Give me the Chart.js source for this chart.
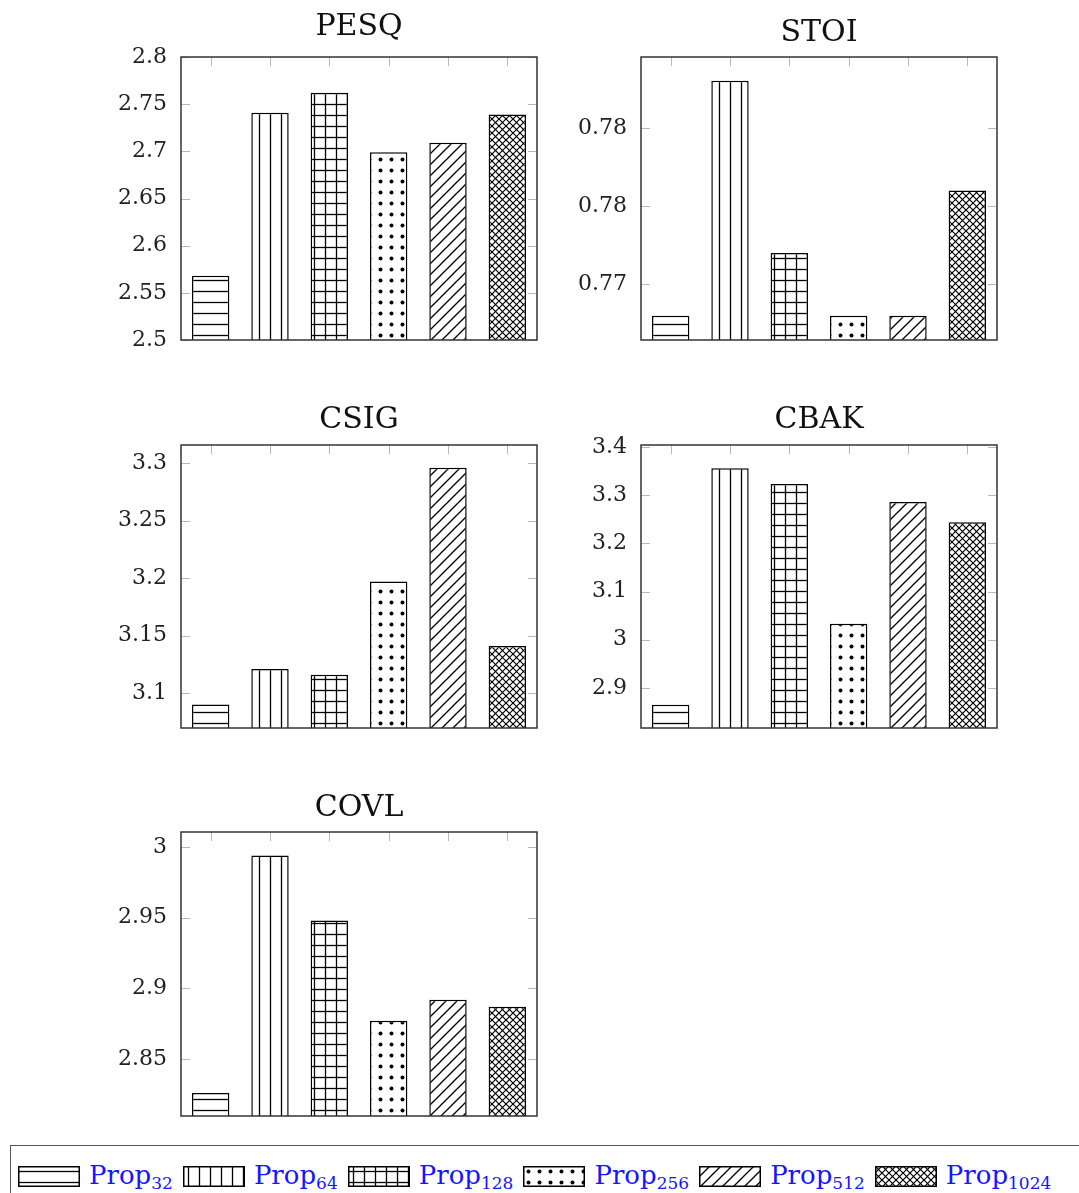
<!DOCTYPE html>
<html>
<head>
<meta charset="utf-8">
<script src="https://cdn.jsdelivr.net/npm/chart.js@4.4.1/dist/chart.umd.min.js"></script>
<style>
  html, body { margin: 0; padding: 0; background: #fff; }
  body { width: 1079px; height: 1193px; position: relative; overflow: hidden; }
  .panel { position: absolute; width: 447px; height: 368px; }
  #legend {
    position: absolute; left: 10px; top: 1145px; width: 1090px; height: 60px;
    border: 1.5px solid #555; box-sizing: border-box;
    display: flex; align-items: flex-start; padding-left: 7px; padding-top: 14px;
    font-family: 'DejaVu Serif', serif; font-size: 26px; color: #1515ff;
  }
  #legend .item { display: flex; align-items: center; margin-right: 10px; white-space: nowrap; }
  #legend canvas { margin-right: 9px; }
  #legend sub { font-size: 17px; vertical-align: -5px; }
</style>
</head>
<body>
<div class="panel" style="left:100px;top:0px"><canvas id="pesq" width="447" height="368"></canvas></div>
<div class="panel" style="left:560px;top:0px"><canvas id="stoi" width="447" height="368"></canvas></div>
<div class="panel" style="left:100px;top:388px"><canvas id="csig" width="447" height="368"></canvas></div>
<div class="panel" style="left:560px;top:388px"><canvas id="cbak" width="447" height="368"></canvas></div>
<div class="panel" style="left:100px;top:775px"><canvas id="covl" width="447" height="369"></canvas></div>
<div id="legend"></div>

<script>
// series (one bar per series in every panel)
const seriesNames = ['32', '64', '128', '256', '512', '1024'];

// metric values
const pesqValues = [2.568, 2.741, 2.762, 2.699, 2.709, 2.739];
const stoiValues = [0.7730, 0.7880, 0.7770, 0.7730, 0.7730, 0.7810];
const csigValues = [3.090, 3.121, 3.116, 3.197, 3.296, 3.141];
const cbakValues = [2.865, 3.356, 3.323, 3.033, 3.286, 3.244];
const covlValues = [2.826, 2.994, 2.948, 2.877, 2.892, 2.887];

// y ticks and their printed labels
const pesqTicks = [2.5, 2.55, 2.6, 2.65, 2.7, 2.75, 2.8];
const pesqTickLabels = ['2.5', '2.55', '2.6', '2.65', '2.7', '2.75', '2.8'];
const stoiTicks = [0.775, 0.78, 0.785];
const stoiTickLabels = ['0.77', '0.78', '0.78'];
const csigTicks = [3.1, 3.15, 3.2, 3.25, 3.3];
const csigTickLabels = ['3.1', '3.15', '3.2', '3.25', '3.3'];
const cbakTicks = [2.9, 3, 3.1, 3.2, 3.3, 3.4];
const cbakTickLabels = ['2.9', '3', '3.1', '3.2', '3.3', '3.4'];
const covlTicks = [2.85, 2.9, 2.95, 3];
const covlTickLabels = ['2.85', '2.9', '2.95', '3'];

// y ranges
const pesqRange = [2.5, 2.8];
const stoiRange = [0.77145, 0.78952];
const csigRange = [3.0696, 3.3157];
const cbakRange = [2.817, 3.404];
const covlRange = [2.8097, 3.0106];

const FONT = "'DejaVu Serif', serif";

// hatch patterns
function makePattern(kind) {
  const size = kind === 'crosshatch' ? 7 : 11;
  const c = document.createElement('canvas');
  c.width = size;
  c.height = size;
  const g = c.getContext('2d');
  g.fillStyle = '#fff';
  g.fillRect(0, 0, size, size);
  g.strokeStyle = '#000';
  g.fillStyle = '#000';
  g.lineWidth = kind === 'crosshatch' ? 1.2 : 1.3;
  const h = size / 2;
  const line = (x1, y1, x2, y2) => {
    g.beginPath();
    g.moveTo(x1, y1);
    g.lineTo(x2, y2);
    g.stroke();
  };
  if (kind === 'horizontal' || kind === 'grid') line(0, h, size, h);
  if (kind === 'vertical' || kind === 'grid') line(h, 0, h, size);
  if (kind === 'dots') {
    g.beginPath();
    g.arc(h, h, 2, 0, Math.PI * 2);
    g.fill();
  }
  if (kind === 'northeast' || kind === 'crosshatch') {
    line(-1, size + 1, size + 1, -1);
    line(-1, 1, 1, -1);
    line(size - 1, size + 1, size + 1, size - 1);
  }
  if (kind === 'crosshatch') {
    line(-1, -1, size + 1, size + 1);
    line(size - 1, -1, size + 1, 1);
    line(-1, size - 1, 1, size + 1);
  }
  return g.createPattern(c, 'repeat');
}

const patternKinds = ['horizontal', 'vertical', 'grid', 'dots', 'northeast', 'crosshatch'];
const patterns = patternKinds.map(makePattern);

// inward tick marks behind the bars, frame on top
const axisBoxPlugin = {
  id: 'axisBox',
  beforeDatasetsDraw(chart) {
    const { ctx, chartArea: a, scales: { x, y } } = chart;
    ctx.save();
    ctx.strokeStyle = '#b8b8b8';
    ctx.lineWidth = 1;
    x.ticks.forEach((t, i) => {
      const px = Math.round(x.getPixelForTick(i)) + 0.5;
      ctx.beginPath();
      ctx.moveTo(px, a.top); ctx.lineTo(px, a.top + 9);
      ctx.moveTo(px, a.bottom); ctx.lineTo(px, a.bottom - 9);
      ctx.stroke();
    });
    y.ticks.forEach((t, i) => {
      const py = Math.round(y.getPixelForTick(i)) + 0.5;
      ctx.beginPath();
      ctx.moveTo(a.left, py); ctx.lineTo(a.left + 9, py);
      ctx.moveTo(a.right, py); ctx.lineTo(a.right - 9, py);
      ctx.stroke();
    });
    ctx.restore();
  },
  afterDatasetsDraw(chart) {
    const { ctx, chartArea: a } = chart;
    ctx.save();
    ctx.strokeStyle = '#333';
    ctx.lineWidth = 1.5;
    ctx.strokeRect(a.left, a.top, a.right - a.left, a.bottom - a.top);
    ctx.restore();
  },
};

function drawPanel(id, title, values, range, ticks, tickLabels, titleGap) {
  const padBottom = titleGap - 18;
  new Chart(document.getElementById(id), {
    type: 'bar',
    data: {
      labels: seriesNames.map((s) => 'Prop' + s),
      datasets: [
        {
          label: title,
          data: values,
          backgroundColor: patterns,
          borderColor: '#000',
          borderWidth: 1.5,
          barPercentage: 0.63,
          categoryPercentage: 1,
        },
      ],
    },
    options: {
      responsive: false,
      animation: false,
      events: [],
      layout: { padding: { left: 0, right: 10, top: 0, bottom: 28 } },
      scales: {
        x: { display: false, offset: true },
        y: {
          min: range[0],
          max: range[1],
          afterBuildTicks: (scale) => {
            scale.ticks = ticks.map((v) => ({ value: v }));
          },
          afterFit: (scale) => {
            scale.width = 81;
          },
          grid: { display: false, drawTicks: false },
          border: { display: false },
          ticks: {
            autoSkip: false,
            padding: 14,
            color: '#222',
            font: { family: FONT, size: 22 },
            callback: (v, i) => tickLabels[i],
          },
        },
      },
      plugins: {
        legend: { display: false },
        tooltip: { enabled: false },
        title: {
          display: true,
          fullSize: false,
          text: title,
          color: '#111',
          font: { family: FONT, size: 30, weight: 'normal', lineHeight: 1.2 },
          padding: { top: 57 - 36 - padBottom, bottom: padBottom },
        },
      },
    },
    plugins: [axisBoxPlugin],
  });
}

drawPanel('pesq', 'PESQ', pesqValues, pesqRange, pesqTicks, pesqTickLabels, 30);
drawPanel('stoi', 'STOI', stoiValues, stoiRange, stoiTicks, stoiTickLabels, 24);
drawPanel('csig', 'CSIG', csigValues, csigRange, csigTicks, csigTickLabels, 25);
drawPanel('cbak', 'CBAK', cbakValues, cbakRange, cbakTicks, cbakTickLabels, 25);
drawPanel('covl', 'COVL', covlValues, covlRange, covlTicks, covlTickLabels, 24);

// legend shared by all panels
const legend = document.getElementById('legend');
seriesNames.forEach((s, i) => {
  const item = document.createElement('div');
  item.className = 'item';
  const sw = document.createElement('canvas');
  sw.width = 62;
  sw.height = 21;
  const g = sw.getContext('2d');
  g.fillStyle = patterns[i];
  g.fillRect(0, 0, 62, 21);
  g.strokeStyle = '#000';
  g.lineWidth = 1.5;
  g.strokeRect(0.75, 0.75, 60.5, 19.5);
  const label = document.createElement('span');
  label.innerHTML = 'Prop<sub>' + s + '</sub>';
  item.appendChild(sw);
  item.appendChild(label);
  legend.appendChild(item);
});
</script>
</body>
</html>
